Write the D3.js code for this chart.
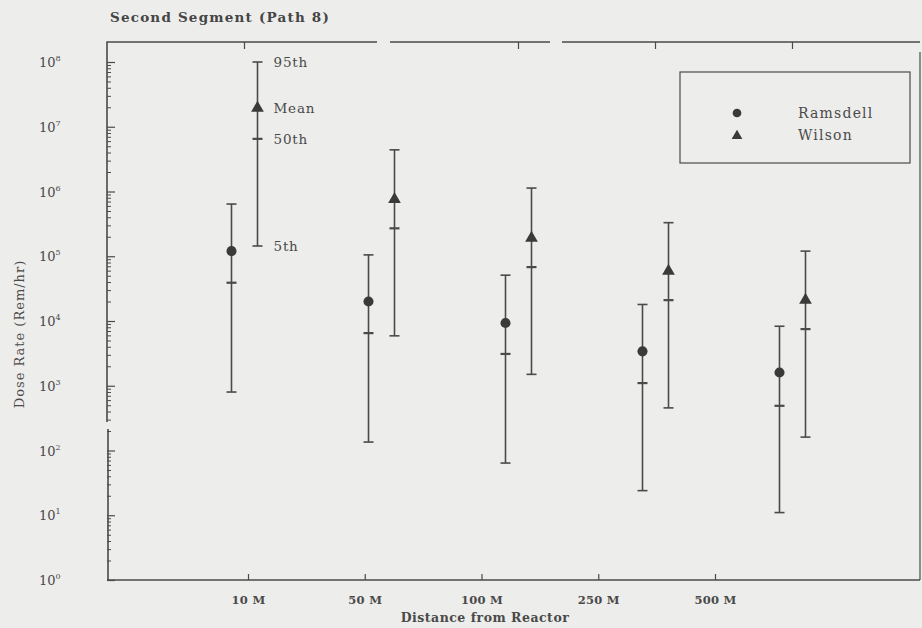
<!DOCTYPE html>
<html>
<head>
<meta charset="utf-8">
<script src="https://cdn.jsdelivr.net/npm/d3@7"></script>
<style>
  body { margin: 0; background: #ededeb; }
  text { font-family: "DejaVu Serif", "Liberation Serif", serif; fill: #4a4a4a; }
</style>
</head>
<body>
<div id="chart"></div>
<script>
// distances (categories) and percentiles, Rem/hr
var categories = ["10 M", "50 M", "100 M", "250 M", "500 M"];

var ramsdell5 = [800, 135, 64, 24, 11];
var ramsdell50 = [39000, 6500, 3100, 1100, 490];
var ramsdellMean = [120000, 20000, 9300, 3400, 1600];
var ramsdell95 = [640000, 105000, 51000, 18000, 8300];

var wilson5 = [144000, 5900, 1500, 455, 161];
var wilson50 = [6500000, 270000, 68000, 21000, 7500];
var wilsonMean = [19500000, 760000, 190000, 59000, 21000];
var wilson95 = [100000000, 4400000, 1130000, 330000, 120000];

var yTicks = [1, 10, 100, 1000, 10000, 100000, 1000000, 10000000, 100000000];
var pctLabels = ["95th", "Mean", "50th", "5th"];

var svgWidth = 922;
var svgHeight = 628;

var margin = { top: 42, right: 2, bottom: 48, left: 107 };
var width = svgWidth - margin.left - margin.right;
var height = svgHeight - margin.top - margin.bottom;

var ink = "#4a4a4a";

var svg = d3.select("#chart")
  .append("svg")
  .attr("width", svgWidth)
  .attr("height", svgHeight);

svg.append("rect")
  .attr("width", svgWidth)
  .attr("height", svgHeight)
  .attr("fill", "#ededeb");

var chartGroup = svg.append("g")
  .attr("transform", `translate(${margin.left}, ${margin.top})`);

// scales
var yScale = d3.scaleLog()
  .domain([1, 1e8])
  .range([height, 20]);

// data groups sit on the top-axis ticks, the printed labels below are shifted
var xScale = d3.scalePoint()
  .domain(categories)
  .range([137.5, 685.5]);

var xLabelScale = d3.scalePoint()
  .domain(categories)
  .range([141, 608]);

var offset = 13;

// frame: top border and left axis have breaks in the original
chartGroup.append("path")
  .attr("d", `M0,380V0H270 M283,0H443 M455,0H${width} M1,387V${height}`)
  .attr("fill", "none")
  .attr("stroke", ink)
  .attr("stroke-width", 1.6);

chartGroup.append("line")
  .attr("x1", width).attr("x2", width)
  .attr("y1", 10).attr("y2", height)
  .attr("stroke", ink)
  .attr("stroke-width", 1.2);

chartGroup.append("line")
  .attr("x1", 0).attr("x2", width)
  .attr("y1", height).attr("y2", height)
  .attr("stroke", ink)
  .attr("stroke-width", 1.6);

// top ticks at the group centres
chartGroup.selectAll(".top-tick")
  .data(categories.filter(d => d !== "50 M"))
  .enter()
  .append("line")
  .attr("x1", d => xScale(d))
  .attr("x2", d => xScale(d))
  .attr("y1", 0)
  .attr("y2", 7)
  .attr("stroke", ink)
  .attr("stroke-width", 1.2);

// left axis, ticks pointing inward
var leftAxis = d3.axisLeft(yScale)
  .tickValues(yTicks)
  .tickSize(-8)
  .tickFormat("");

var yAxis = chartGroup.append("g").call(leftAxis);
yAxis.select(".domain").remove();
yAxis.selectAll("line").attr("stroke", ink).attr("stroke-width", 1.2);

var minorTicks = [];
yTicks.slice(0, -1).forEach(function(d) {
  for (var k = 2; k < 10; k++) minorTicks.push(d * k);
});

var minorAxis = chartGroup.append("g")
  .call(d3.axisLeft(yScale).tickValues(minorTicks).tickSize(-4).tickFormat(""));
minorAxis.select(".domain").remove();
minorAxis.selectAll("line").attr("stroke", ink).attr("stroke-width", 1);

// decade labels with superscript exponent
var yLabels = chartGroup.selectAll(".y-label")
  .data(yTicks)
  .enter()
  .append("text")
  .attr("x", -68)
  .attr("y", d => yScale(d) + 5)
  .style("font-size", "13px");

yLabels.append("tspan").text("10");
yLabels.append("tspan")
  .attr("dy", -6)
  .style("font-size", "8px")
  .text(d => Math.round(Math.log10(d)));

// bottom axis
var bottomAxis = d3.axisBottom(xLabelScale)
  .tickSize(-6)
  .tickPadding(16);

var xAxis = chartGroup.append("g")
  .attr("transform", `translate(0, ${height})`)
  .call(bottomAxis);
xAxis.select(".domain").remove();
xAxis.selectAll("line").attr("stroke", ink).attr("stroke-width", 1.2);
xAxis.selectAll("text")
  .style("font-size", "11.5px")
  .style("font-weight", "bold")
  .style("font-family", "DejaVu Serif")
  .style("letter-spacing", "0.3px")
  .attr("fill", ink);

// titles
svg.append("text")
  .attr("x", 110)
  .attr("y", 22)
  .style("font-size", "13.5px")
  .style("font-weight", "bold")
  .style("letter-spacing", "1.2px")
  .style("fill", "#454545")
  .text("Second Segment (Path 8)");

svg.append("text")
  .attr("transform", `translate(24, ${margin.top + 292}) rotate(-90)`)
  .style("text-anchor", "middle")
  .style("font-size", "13px")
  .style("letter-spacing", "1px")
  .text("Dose Rate (Rem/hr)");

svg.append("text")
  .attr("x", 485)
  .attr("y", 622)
  .style("text-anchor", "middle")
  .style("font-size", "12.5px")
  .style("font-weight", "bold")
  .style("letter-spacing", "0.5px")
  .text("Distance from Reactor");

// series
var ramsdell = categories.map((c, i) => ({
  cat: c, p5: ramsdell5[i], p50: ramsdell50[i], mean: ramsdellMean[i], p95: ramsdell95[i]
}));
var wilson = categories.map((c, i) => ({
  cat: c, p5: wilson5[i], p50: wilson50[i], mean: wilsonMean[i], p95: wilson95[i]
}));

function drawSeries(data, dx, marker) {
  var g = chartGroup.append("g");
  var cx = d => xScale(d.cat) + dx;

  g.selectAll(".stem").data(data).enter().append("line")
    .attr("x1", cx).attr("x2", cx)
    .attr("y1", d => yScale(d.p95))
    .attr("y2", d => yScale(d.p5))
    .attr("stroke", ink)
    .attr("stroke-width", 1.6);

  ["p95", "p5"].forEach(function(key) {
    g.selectAll(".cap-" + key).data(data).enter().append("line")
      .attr("x1", d => cx(d) - 5).attr("x2", d => cx(d) + 5)
      .attr("y1", d => yScale(d[key]))
      .attr("y2", d => yScale(d[key]))
      .attr("stroke", ink)
      .attr("stroke-width", 1.6);
  });

  g.selectAll(".median").data(data).enter().append("line")
    .attr("x1", d => cx(d) - 5).attr("x2", d => cx(d) + 5)
    .attr("y1", d => yScale(d.p50))
    .attr("y2", d => yScale(d.p50))
    .attr("stroke", ink)
    .attr("stroke-width", 2.2);

  g.selectAll(".mean").data(data).enter().append("path")
    .attr("transform", d => `translate(${cx(d)}, ${yScale(d.mean)})`)
    .attr("d", d3.symbol().type(marker).size(marker === d3.symbolCircle ? 80 : 70))
    .attr("fill", "#3a3a3a");
}

drawSeries(ramsdell, -offset, d3.symbolCircle);
drawSeries(wilson, offset, d3.symbolTriangle);

// percentile annotations beside the first Wilson bar
var first = wilson[0];
var annot = [first.p95, first.mean, first.p50, first.p5];
chartGroup.selectAll(".annot")
  .data(pctLabels)
  .enter()
  .append("text")
  .attr("x", xScale(first.cat) + offset + 16)
  .attr("y", (d, i) => yScale(annot[i]) + 5)
  .style("font-size", "13.5px")
  .style("letter-spacing", "0.8px")
  .text(d => d);

// legend
var legend = svg.append("g").attr("transform", "translate(680, 72)");
legend.append("rect")
  .attr("width", 230)
  .attr("height", 91)
  .attr("fill", "none")
  .attr("stroke", ink)
  .attr("stroke-width", 1.2);

var legendItems = [
  { name: "Ramsdell", marker: d3.symbolCircle, size: 60 },
  { name: "Wilson", marker: d3.symbolTriangle, size: 50 }
];

legendItems.forEach(function(item, i) {
  legend.append("path")
    .attr("transform", `translate(57, ${41 + i * 23})`)
    .attr("d", d3.symbol().type(item.marker).size(item.size))
    .attr("fill", "#3a3a3a");
  legend.append("text")
    .attr("x", 118)
    .attr("y", 46 + i * 22)
    .style("font-size", "14px")
    .style("letter-spacing", "1.2px")
    .text(item.name);
});
</script>
</body>
</html>
